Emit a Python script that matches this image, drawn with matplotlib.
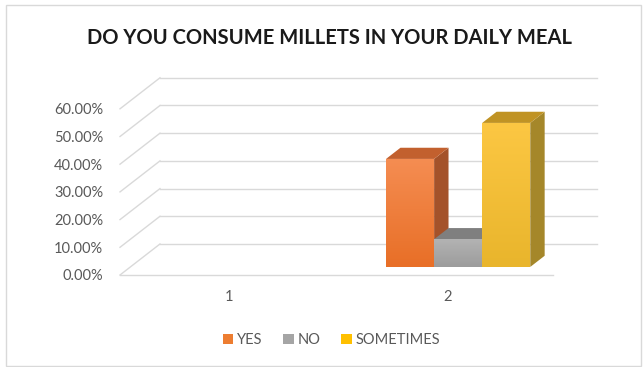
import numpy as np
import matplotlib
matplotlib.use("Agg")
import matplotlib.pyplot as plt
from matplotlib.patches import Polygon, Patch, Rectangle
from matplotlib.colors import LinearSegmentedColormap

# survey answers, share of respondents per group
categories = ["1", "2"]
series = ["YES", "NO", "SOMETIMES"]
values = {
    "YES": [0.0, 0.39],
    "NO": [0.0, 0.10],
    "SOMETIMES": [0.0, 0.52],
}
ticks = [0.0, 0.1, 0.2, 0.3, 0.4, 0.5, 0.6]

# face colours: front gradient (top, bottom), top face, side face
faces = {
    "YES": (["#f58d52", "#e86f27"], "#c2602e", "#a4522a"),
    "NO": (["#b3b3b3", "#9c9c9c"], "#7f7f7f", "#6e6e6e"),
    "SOMETIMES": (["#fcc743", "#e9b52c"], "#c09324", "#a5872a"),
}
legend_colors = {"YES": "#ed7d31", "NO": "#a5a5a5", "SOMETIMES": "#ffc000"}

# oblique projection: full wall depth offset in data units
DX, DY = 0.183, 0.112
BAR_W = 0.22
D0, D1 = 0.26, 0.62  # bar depth span (fraction of wall depth)

plt.rcParams["font.family"] = ["Lato", "DejaVu Sans"]
grid_c = "#d9d9d9"
text_c = "#595959"


def proj(x, v, d):
    return (x + d * DX, v + d * DY)


fig = plt.figure(figsize=(6.44, 3.67), dpi=100)
fig.patches.append(Rectangle((6 / 644, 1 / 367), 635 / 644, 361 / 367,
                             transform=fig.transFigure, fill=False,
                             edgecolor="#d9d9d9", lw=1))

ax = fig.add_axes([120 / 644, 92 / 367, 477 / 644, 197.2 / 367])
x0, x1 = 0.5, len(categories) + 0.5

# back wall gridlines and left wall diagonals
for t in ticks:
    bx0, by = proj(x0, t, 1)
    bx1, _ = proj(x1, t, 1)
    ax.plot([bx0, bx1], [by, by], color=grid_c, lw=1, clip_on=False, zorder=1)
    ax.plot([x0, bx0], [t, by], color=grid_c, lw=1, clip_on=False, zorder=1)
# floor front edge
ax.plot([x0, x1 - 0.02], [0, 0], color=grid_c, lw=1, clip_on=False, zorder=1)

# bars
for ci, cat in enumerate(categories):
    xc = ci + 1
    for si, name in enumerate(series):
        v = values[name][ci]
        if v <= 0:
            continue
        left = xc - 1.5 * BAR_W + si * BAR_W
        right = left + BAR_W
        grad, top_c, side_c = faces[name]
        z = 3 + si
        # side face
        side = [proj(right, 0, D0), proj(right, 0, D1), proj(right, v, D1), proj(right, v, D0)]
        ax.add_patch(Polygon(side, closed=True, facecolor=side_c, edgecolor="none", zorder=z))
        # top face
        top = [proj(left, v, D0), proj(right, v, D0), proj(right, v, D1), proj(left, v, D1)]
        ax.add_patch(Polygon(top, closed=True, facecolor=top_c, edgecolor="none", zorder=z))
        # front face with vertical gradient
        fx0, fy0 = proj(left, 0, D0)
        fx1, fy1 = proj(right, v, D0)
        front = Polygon([(fx0, fy0), (fx1, fy0), (fx1, fy1), (fx0, fy1)], closed=True,
                        facecolor="none", edgecolor="none", zorder=z)
        ax.add_patch(front)
        cmap = LinearSegmentedColormap.from_list(name, [grad[1], grad[0]])
        im = ax.imshow(np.linspace(0, 1, 64).reshape(-1, 1), cmap=cmap, origin="lower",
                       extent=[fx0, fx1, fy0, fy1], aspect="auto", zorder=z)
        im.set_clip_path(front)

ax.set_xlim(x0, x1 + DX)
ax.set_ylim(0, ticks[-1] + DY)
for s in ax.spines.values():
    s.set_visible(False)
ax.set_yticks(ticks)
ax.set_yticklabels([f"{t:.2%}" for t in ticks])
ax.set_xticks(range(1, len(categories) + 1))
ax.set_xticklabels(categories)
ax.tick_params(axis="y", length=0, pad=12, labelsize=10.5, labelcolor=text_c)
ax.tick_params(axis="x", length=0, pad=11, labelsize=10.5, labelcolor=text_c)
ax.patch.set_visible(False)

fig.text(0.511, 1 - 38 / 367, "DO YOU CONSUME MILLETS IN YOUR DAILY MEAL",
         ha="center", va="center", fontsize=14.5, fontweight="bold", color="#1a1a1a")

handles = [Patch(facecolor=legend_colors[n], edgecolor="none") for n in series]
fig.legend(handles, series, loc="center", bbox_to_anchor=(0.515, 1 - 340 / 367), ncol=3,
           frameon=False, fontsize=10.5, labelcolor=text_c, handlelength=0.7,
           handleheight=0.7, handletextpad=0.3, columnspacing=1.4)

fig.savefig("out.png", dpi=100)
